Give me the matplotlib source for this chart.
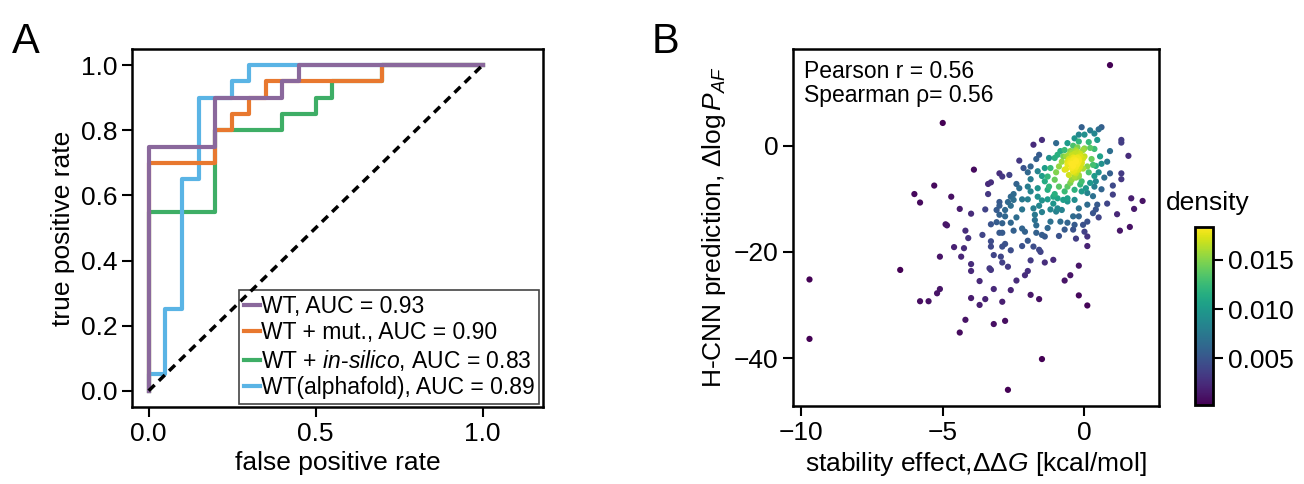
import numpy as np
import matplotlib
matplotlib.use("Agg")
import matplotlib.pyplot as plt

plt.rcParams['font.family'] = ['Liberation Sans', 'DejaVu Sans']
plt.rcParams['mathtext.fontset'] = 'custom'
plt.rcParams['mathtext.rm'] = 'Liberation Sans'
plt.rcParams['mathtext.it'] = 'Liberation Sans:italic'
plt.rcParams['axes.unicode_minus'] = True

# ROC curves (fpr, tpr vertices)
wt_fpr = [0, 0, 0.2, 0.2, 0.4, 0.4, 0.45, 0.45, 1.0]
wt_tpr = [0, 0.75, 0.75, 0.9, 0.9, 0.95, 0.95, 1.0, 1.0]
mut_fpr = [0, 0, 0.2, 0.2, 0.25, 0.25, 0.3, 0.3, 0.35, 0.35, 0.7, 0.7, 1.0]
mut_tpr = [0, 0.7, 0.7, 0.8, 0.8, 0.85, 0.85, 0.9, 0.9, 0.95, 0.95, 1.0, 1.0]
sil_fpr = [0, 0, 0.2, 0.2, 0.4, 0.4, 0.5, 0.5, 0.55, 0.55, 0.7, 0.7, 1.0]
sil_tpr = [0, 0.55, 0.55, 0.8, 0.8, 0.85, 0.85, 0.9, 0.9, 0.95, 0.95, 1.0, 1.0]
af_fpr = [0, 0, 0.05, 0.05, 0.1, 0.1, 0.15, 0.15, 0.25, 0.25, 0.3, 0.3, 1.0]
af_tpr = [0, 0.05, 0.05, 0.25, 0.25, 0.65, 0.65, 0.9, 0.9, 0.95, 0.95, 1.0, 1.0]

labels = ['WT, AUC = 0.93', 'WT + mut., AUC = 0.90',
          r'WT + $\mathit{in}$-$\mathit{silico}$, AUC = 0.83',
          'WT(alphafold), AUC = 0.89']
colors = ['#8a689c', '#e8782f', '#3eae66', '#5ab4e5']

# scatter: stability effect ddG vs H-CNN prediction
ddg = [0.9, -5.0, -9.7, -9.7, -6.5, -2.7, -1.5,
       -6.0, -5.8, -5.3, -4.7, -4.4, -4.9, -4.85, -4.0, -3.9, -5.1, -5.8, -5.5, -5.2, -5.1,
       -4.2, -4.1, -4.6, -4.25, -4.35, -4.0, -4.0, -3.7, -4.0, -3.7, -3.5, -4.2, -4.4, -3.2,
       -2.8, -3.2, -2.9, -2.6, -2.4, -2.1, -2.0, -1.9, -1.6, -1.9, -1.4, -1.1, -0.7, -0.5,
       -0.2, -0.2, 0.1, 0.1, -0.3, -3.3, -3.35,
       -3.4, -3.3, -3.4, -3.0, -2.9, -2.65, -2.3, -1.8, -1.5, -1.6, -2.15, -1.9, -1.9, -2.0,
       -2.4, -2.3, -2.5, -2.6, -2.7, -2.5, -2.2, -2.0, -1.9, -1.65, -1.65, -3.0, -3.0, -3.1,
       -2.8, -2.6, -3.0, -3.1, -2.9, -2.8, -3.3, -3.6, -3.0, -2.9, -2.5, -2.2, -2.1, -1.7,
       -1.7, -1.5, -1.4, -2.0, -2.2, -2.6, -2.8, -2.9, -3.2, -2.95, -2.9, -2.7, -3.3, -3.3,
       -1.8, -1.6, -1.55, -1.8, -1.75, -1.75, -1.6, -1.5, -1.3, -1.1, -0.95, -0.8, -1.0, -1.2,
       -0.85, -0.7, -0.6, -0.35, -0.4, -0.4, -0.2, -0.05, 0.0, 0.1, 0.3, 0.4, 0.1, 0.45, 0.8,
       1.0, 0.9, 1.3, 1.3, 1.3, 1.3, 1.55, 1.15, 1.25, 1.6, 1.65, 1.75, 2.05, 0.1,
       -0.1, 0.2, 0.5, 0.6, 0.35, 0.45, 0.0, -0.2, -0.35, -0.6, -0.4, -0.25, -0.05, 0.2, 0.35,
       -0.7, -0.95, -1.05, -1.25, -0.75, -0.55, -0.35, -0.2, -0.1, -0.25, 0.1, 0.3, 0.4, 0.6,
       0.35, 0.4, 0.2, 0.05, 0.35, 0.1, -0.1, -0.35, -0.6, -0.7, -0.9, -1.05, -1.3, -1.5,
       -1.65, -1.4, -1.2, -0.9, -0.7, -0.55, -0.45, -0.35, -0.4, -0.25, -0.2, -0.1, -0.6,
       -0.75, -0.95, -1.1, -1.3, -1.25, -1.4, -1.05, -0.6, -0.35,
       -0.3, -0.45, -0.15, 0.0, -0.5, -0.6, -0.8, -0.05, 0.15, -0.3, 0.25, -0.65, -0.15, 0.5,
       0.55, -1.0, -0.5, 0.0, 0.15, -0.2, -0.85, 0.3, 0.6, 0.7, -0.2, 0.5, -1.5, -1.2, -2.2,
       -2.4, -1.3, -0.9, -2.6, -3.5, -2.0, -1.7, -1.0, 0.9, 0.8, 1.0,
       -0.35, -0.3, -0.4, -0.25, -0.45, -0.2, -0.5, -0.3, -0.15, -0.55, -0.35, -0.4, -0.2,
       -0.3, -0.1, -0.6, -0.45, -0.25, -0.35, -0.5, -0.15, -0.3, -0.4, -0.05, -0.65, -0.2,
       -0.35, -0.45, -0.3, -0.25]
dlogp = [15.2, 4.3, -25.2, -36.4, -23.4, -46.0, -40.2,
         -9.1, -10.7, -7.5, -9.6, -11.9, -14.8, -15.0, -12.8, -4.5, -20.9, -29.3, -29.3, -27.8,
         -27.0, -16.0, -17.4, -19.1, -19.3, -20.9, -22.3, -23.6, -25.5, -28.7, -30.0, -28.9,
         -32.8, -35.2, -33.6, -33.0, -27.0, -29.4, -27.2, -25.4, -24.4, -23.6, -28.1, -28.9,
         -21.6, -22.0, -21.5, -25.4, -24.4, -22.6, -28.2, -30.1, -18.9, -17.5, -23.4, -23.1,
         -7.2, -6.9, -9.1, -5.2, -5.8, -5.5, -2.8, 0.2, 1.1, -1.7, -4.2, -3.9, -6.3, -7.7,
         -7.2, -8.0, -9.1, -9.6, -10.6, -10.2, -10.1, -10.1, -8.6, -9.6, -8.0, -10.6, -11.3,
         -12.1, -12.1, -11.3, -13.0, -14.4, -14.6, -13.3, -14.8, -16.8, -16.4, -16.4, -16.0,
         -15.6, -16.2, -15.0, -16.4, -16.8, -17.1, -17.9, -18.9, -19.7, -18.5, -19.0, -20.6,
         -20.9, -22.0, -22.8, -18.0, -19.0, -19.0, -19.6, -20.0, -11.8, -13.0, -14.0, -11.3,
         -10.3, -10.1, -10.9, -11.8, -12.1, -12.4, -14.3, -14.3, -15.8, -14.5, -14.9, -15.8,
         -13.3, -13.3, -14.9, -16.2, -14.3, -12.7, -12.0, -11.1, -11.1, -10.9, -9.2, -5.2,
         -6.3, -5.2, 1.1, 0.6, -1.9, -12.9, -16.0, -15.3, -9.9, -11.9, -10.4, -17.1,
         3.5, 2.9, 3.1, 3.5, 2.3, 1.1, 2.1, 2.1, 1.4, 0.5, 0.0, -0.3, -0.8, -0.4, -0.6,
         -0.8, -1.7, -2.3, -2.3, -2.0, -1.7, -2.3, -2.5, -3.3, -3.4, -3.9, -3.6, -3.8, -3.4,
         -5.7, -6.7, -7.0, -8.0, -7.7, -8.9, -8.6, -8.3, -7.7, -8.6, -7.7, -6.4, -5.8, -5.7,
         -4.8, -4.2, -4.2, -3.9, -4.5, -5.5, -6.4, -5.8, -4.8, -4.5, -5.8, -6.7, -9.9,
         -10.2, -9.9, -9.6, -8.3, -7.7, -6.7, -9.1, -10.5, -10.2,
         -1.0, -1.3, -1.5, -2.0, -2.8, -3.5, -3.0, -4.3, -5.0, -5.2, -2.5, -4.4, -7.3, -5.0,
         -2.0, -5.0, -7.0, -0.5, 0.7, 0.8, -1.0, -9.5, -8.2, -6.0, -11.8, -13.5, -12.5, -12.0,
         -12.0, -13.5, -15.5, -17.0, -14.5, -12.0, -5.0, -2.5, 0.5, -1.0, -3.0, -7.5,
         -2.6, -3.0, -2.2, -3.5, -1.8, -2.9, -3.2, -4.0, -2.0, -2.5, -1.5, -3.8, -4.5,
         -2.8, -3.1, -3.0, -4.2, -1.2, -5.0, -1.0, -3.9, -0.8, -2.7, -2.4, -2.0, -5.5,
         -4.6, -3.4, -6.0, -2.2]


def kde_density(x, y):
    # gaussian kde with Scott's bandwidth
    d = np.vstack([x, y])
    n = d.shape[1]
    cov = np.cov(d) * n ** (-2.0 / 6)
    inv = np.linalg.inv(cov)
    diff = d[:, :, None] - d[:, None, :]
    m = np.einsum('inm,ij,jnm->nm', diff, inv, diff)
    return np.exp(-0.5 * m).sum(1) / (n * 2 * np.pi * np.sqrt(np.linalg.det(cov)))


fig = plt.figure(figsize=(13.04, 4.84), dpi=100)
ax1 = fig.add_axes([0.1012, 0.159, 0.315, 0.740])
ax2 = fig.add_axes([0.608, 0.161, 0.281, 0.738])
cax = fig.add_axes([0.9165, 0.163, 0.0138, 0.368])

# panel A
curves = [(wt_fpr, wt_tpr), (mut_fpr, mut_tpr), (sil_fpr, sil_tpr), (af_fpr, af_tpr)]
zorders = [5, 4, 2, 3]
handles = []
for (fx, ty), lab, c, z in zip(curves, labels, colors, zorders):
    h, = ax1.plot(fx, ty, color=c, lw=3, label=lab, zorder=z)
    handles.append(h)
ax1.plot([0, 1], [0, 1], color='k', ls=(0, (2.4, 1.7)), lw=2.5, zorder=6)
ax1.set_xlim(-0.05, 1.18)
ax1.set_ylim(-0.05, 1.05)
ax1.set_xticks([0, 0.5, 1.0])
ax1.set_yticks([0, 0.2, 0.4, 0.6, 0.8, 1.0])
ax1.set_xlabel('false positive rate', fontsize=19)
ax1.set_ylabel('true positive rate', fontsize=19)
leg = ax1.legend(handles=handles, loc='lower right', fontsize=16.5, fancybox=False,
                 edgecolor='#444444', framealpha=1, handlelength=0.7, handletextpad=0.05,
                 labelspacing=0.15, borderpad=0.2, borderaxespad=0.15)
leg.get_frame().set_linewidth(1.2)

# panel B
x = np.array(ddg)
y = np.array(dlogp)
dens = kde_density(x, y)
order = dens.argsort()
sc = ax2.scatter(x[order], y[order], c=dens[order], cmap='viridis', s=20, edgecolors='none')
ax2.set_xticks([-10, -5, 0])
ax2.set_yticks([0, -20, -40])
ax2.set_xlabel(r'stability effect,$\Delta\Delta G$ [kcal/mol]', fontsize=19)
ax2.set_ylabel(r'H-CNN prediction, $\Delta\log P_{AF}$', fontsize=19)
ax2.text(0.03, 0.97, 'Pearson r = 0.56\nSpearman \u03c1= 0.56', transform=ax2.transAxes,
         ha='left', va='top', fontsize=16.5, linespacing=1.1)

cb = fig.colorbar(sc, cax=cax, ticks=[0.005, 0.010, 0.015])
cb.ax.set_yticklabels(['0.005', '0.010', '0.015'])
cb.outline.set_linewidth(2)
cb.ax.tick_params(labelsize=19, length=7, width=1.5)
cax.text(0.72, 1.07, 'density', transform=cax.transAxes, ha='center', va='bottom', fontsize=19)

for ax in (ax1, ax2):
    ax.tick_params(labelsize=19, length=7, width=1.5)
    for s in ax.spines.values():
        s.set_linewidth(1.8)

fig.text(0.009, 0.89, 'A', fontsize=30)
fig.text(0.5, 0.89, 'B', fontsize=30)

fig.savefig('out.png', dpi=100)
